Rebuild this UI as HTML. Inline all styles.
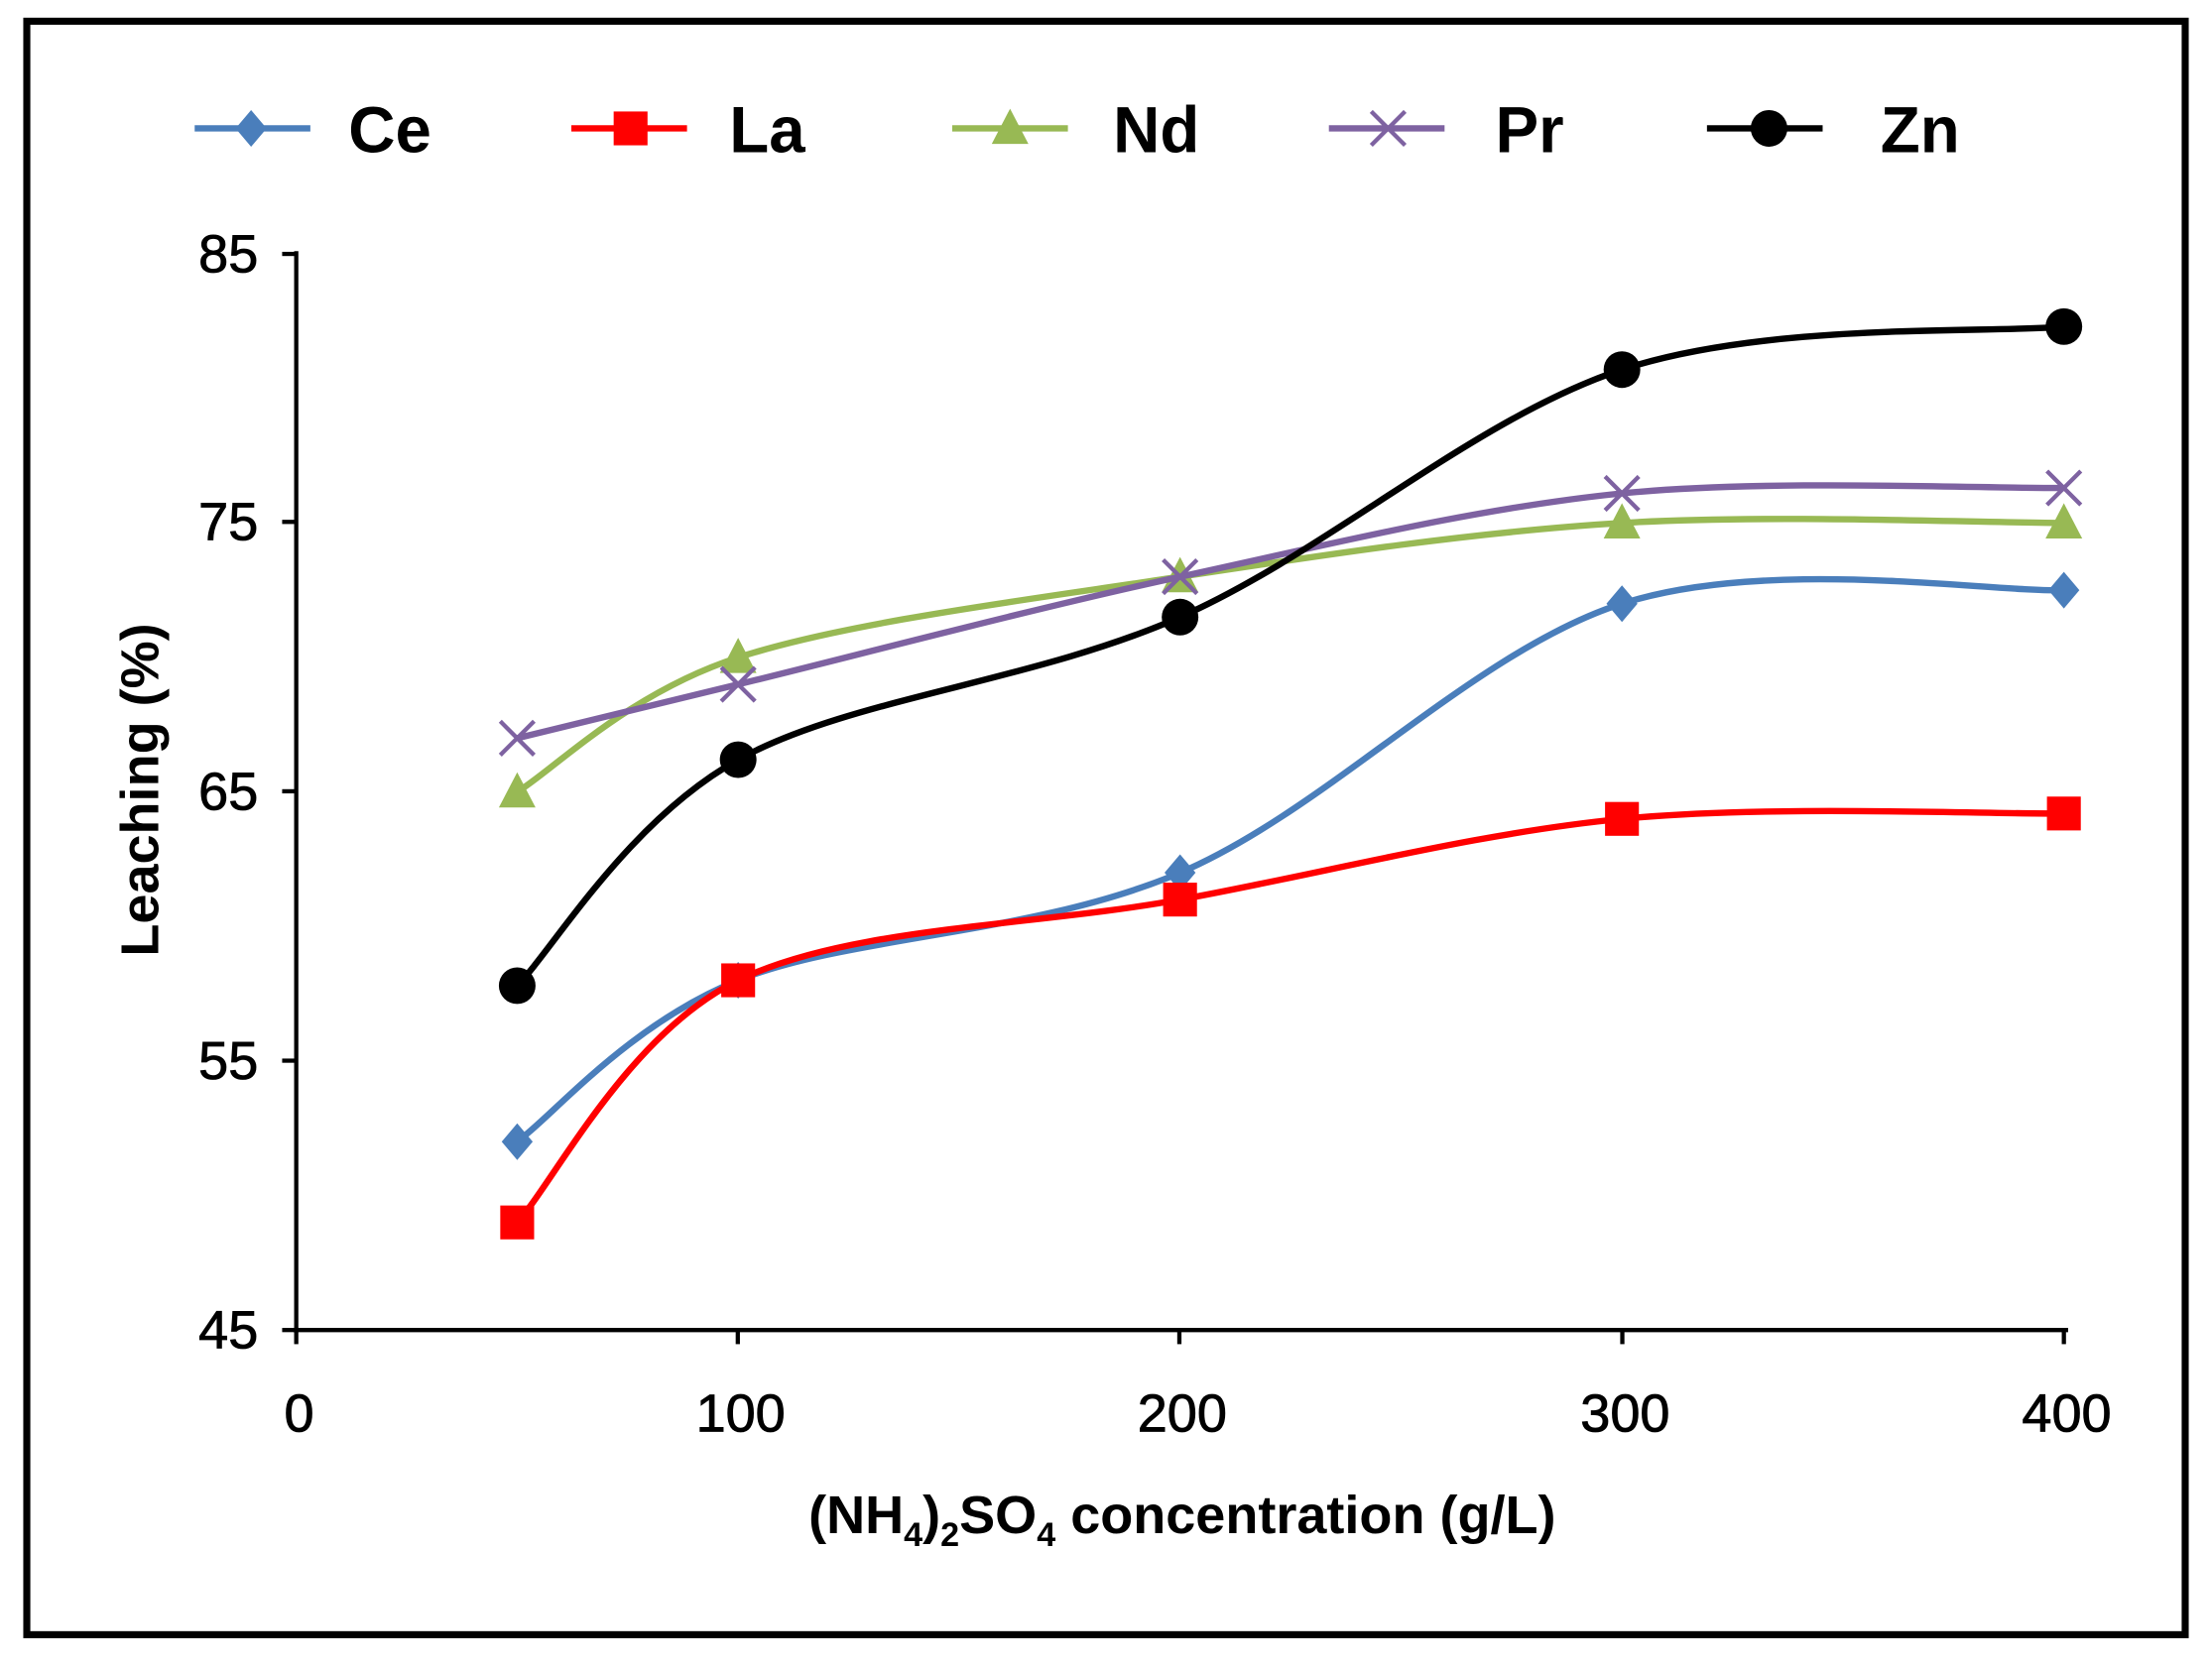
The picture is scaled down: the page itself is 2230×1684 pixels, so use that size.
<!DOCTYPE html>
<html><head><meta charset="utf-8"><style>
html,body{margin:0;padding:0;background:#fff;}
svg{display:block}
text{font-family:"Liberation Sans",Arial,sans-serif;}
</style></head><body>
<svg id="s" width="2230" height="1684" viewBox="0 0 1568 1184" xmlns="http://www.w3.org/2000/svg">
<rect x="0" y="0" width="1568" height="1184" fill="#fff"/>
<rect x="19" y="15" width="1530" height="1144" fill="none" stroke="#000" stroke-width="5"/>
<g stroke="#000" stroke-width="3" fill="none">
<line x1="210" y1="178" x2="210" y2="944"/>
<line x1="208" y1="943" x2="1466" y2="943"/>
<line x1="200" y1="180" x2="210" y2="180"/>
<line x1="200" y1="370" x2="210" y2="370"/>
<line x1="200" y1="561" x2="210" y2="561"/>
<line x1="200" y1="752" x2="210" y2="752"/>
<line x1="200" y1="943" x2="210" y2="943"/>
<line x1="210" y1="943" x2="210" y2="953"/>
<line x1="523" y1="943" x2="523" y2="953"/>
<line x1="836" y1="943" x2="836" y2="953"/>
<line x1="1150" y1="943" x2="1150" y2="953"/>
<line x1="1463" y1="943" x2="1463" y2="953"/>
</g>
<g font-size="38" text-anchor="end" fill="#000" stroke="#000" stroke-width="0.6">
<text x="183" y="193">85</text>
<text x="183" y="383">75</text>
<text x="183" y="574">65</text>
<text x="183" y="765">55</text>
<text x="183" y="956">45</text>
</g>
<g font-size="38" text-anchor="middle" fill="#000" stroke="#000" stroke-width="0.6">
<text x="212" y="1015">0</text>
<text x="525" y="1015">100</text>
<text x="838" y="1015">200</text>
<text x="1152" y="1015">300</text>
<text x="1465" y="1015">400</text>
</g>
<text transform="translate(112,560) rotate(-90)" font-size="38" font-weight="bold" text-anchor="middle">Leaching (%)</text>
<text x="838" y="1087" font-size="38" font-weight="bold" text-anchor="middle">(NH<tspan font-size="24" dy="9">4</tspan><tspan dy="-9">)</tspan><tspan font-size="24" dy="9">2</tspan><tspan dy="-9">SO</tspan><tspan font-size="24" dy="9">4</tspan><tspan dy="-9"> concentration (g/L)</tspan></text>
<g font-size="46" font-weight="bold">
<text x="247" y="108">Ce</text>
<text x="517" y="108">La</text>
<text x="789" y="108">Nd</text>
<text x="1060" y="108">Pr</text>
<text x="1333" y="108">Zn</text>
</g>
<g id="plot"></g>
</svg>
<script>
var X=function(v){return 210+v*3.1325};
var Y=function(v){return 943-(v-45)*19.075};
var xs=[50,100,200,300,400];
var series=[
 {c:"#4a7ebb",m:"d",d:[52,58,62,72,72.5],lx:138,lm:178},
 {c:"#ff0000",m:"s",d:[49,58,61,64,64.2],lx:405,lm:447},
 {c:"#98b954",m:"t",d:[65,70,73,75,75],lx:675,lm:716},
 {c:"#7e62a1",m:"x",d:[67,69,73,76.1,76.3],lx:942,lm:984},
 {c:"#000000",m:"c",d:[57.8,66.2,71.5,80.7,82.3],lx:1210,lm:1254}
];
var g=document.getElementById("plot"),h="";
function mk(m,x,y,c){
 if(m=="d")return '<polygon points="'+x+','+(y-13)+' '+(x+11)+','+y+' '+x+','+(y+13)+' '+(x-11)+','+y+'" fill="'+c+'"/>';
 if(m=="s")return '<rect x="'+(x-12)+'" y="'+(y-12)+'" width="24" height="24" fill="'+c+'"/>';
 if(m=="t")return '<polygon points="'+x+','+(y-14)+' '+(x+13)+','+(y+11)+' '+(x-13)+','+(y+11)+'" fill="'+c+'"/>';
 if(m=="x")return '<path d="M'+(x-12)+' '+(y-12)+'L'+(x+12)+' '+(y+12)+'M'+(x+12)+' '+(y-12)+'L'+(x-12)+' '+(y+12)+'" stroke="'+c+'" stroke-width="3"/>';
 return '<circle cx="'+x+'" cy="'+y+'" r="13" fill="'+c+'"/>';
}
series.forEach(function(s){
 var p=xs.map(function(v,i){return [X(v),Y(s.d[i])]});
 var d="M"+p[0][0]+" "+p[0][1];
 for(var i=0;i<p.length-1;i++){
  var p0=p[i-1]||p[i],p1=p[i],p2=p[i+1],p3=p[i+2]||p[i+1],t=1/6;
  d+=" C"+(p1[0]+(p2[0]-p0[0])*t)+" "+(p1[1]+(p2[1]-p0[1])*t)+" "+(p2[0]-(p3[0]-p1[0])*t)+" "+(p2[1]-(p3[1]-p1[1])*t)+" "+p2[0]+" "+p2[1];
 }
 h+='<path d="'+d+'" fill="none" stroke="'+s.c+'" stroke-width="4.5"/>';
 p.forEach(function(q){h+=mk(s.m,q[0],q[1],s.c)});
 h+='<line x1="'+s.lx+'" y1="91" x2="'+(s.lx+82)+'" y2="91" stroke="'+s.c+'" stroke-width="4.5"/>';
 h+=mk(s.m,s.lm,91,s.c);
});
g.innerHTML=h;
</script>
</body></html>
